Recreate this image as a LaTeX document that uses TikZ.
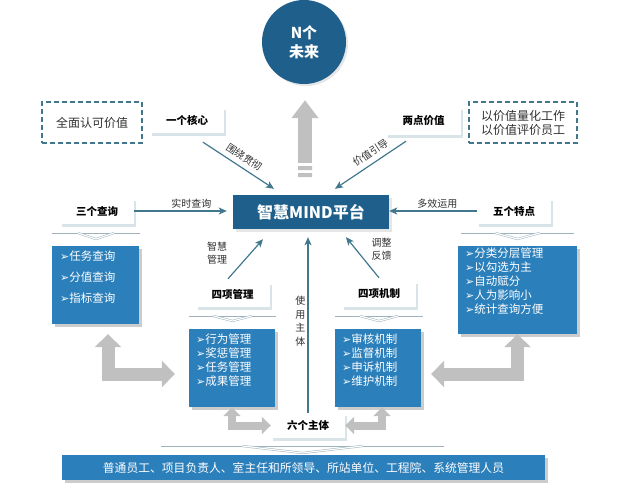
\documentclass[tikz,border=0pt]{standalone}
\usepackage{fontspec}
\setmainfont{Noto Sans CJK SC}
\newfontfamily\dejavu{DejaVu Sans}
\usepackage{tikz}
\usetikzlibrary{arrows.meta}
\usetikzlibrary{calc}
\usetikzlibrary{shadows}

\definecolor{navy}{HTML}{1F5F8B}
\definecolor{midblue}{HTML}{2B7FBB}
\definecolor{linkblue}{HTML}{41788E}
\definecolor{blockgray}{HTML}{C0C0C0}
\definecolor{sepgray}{HTML}{9FB3BF}
\definecolor{txtgray}{HTML}{303030}

\newcommand{\listmark}{{\dejavu\fontsize{11}{11}\selectfont ➢}}

\begin{document}
\begin{tikzpicture}[x=1pt,y=-1pt,>={Stealth[length=8pt,width=7pt,inset=2pt]},
  head node/.style={rectangle,fill=white,minimum width=74pt,minimum height=26pt,inner sep=0pt,font=\fontsize{10.5}{12}\selectfont\bfseries,drop shadow={shadow xshift=2pt,shadow yshift=-3pt,fill=linkblue,opacity=0.2}},
  value node/.style={rectangle,draw=linkblue,line width=1.3pt,dash pattern=on 5pt off 3pt,minimum height=41pt,inner sep=0pt,align=center,text=txtgray,font=\fontsize{12}{14}\selectfont},
  list box/.style={rectangle,fill=midblue,inner sep=0pt,drop shadow={shadow xshift=3pt,shadow yshift=-3pt,fill=black,opacity=0.2}},
  list text/.style={anchor=north west,inner sep=0pt,align=left,text=white,font=\fontsize{11.5}{14}\selectfont},
  link/.style={->,draw=linkblue,line width=1.2pt},
  tag/.style={inner sep=2pt,text=txtgray,font=\fontsize{10}{13.5}\selectfont},
  block/.style={draw=blockgray,line width=13pt,arrows={Triangle[length=13pt,width=26pt]-Triangle[length=13pt,width=26pt]}},
  small block/.style={draw=blockgray,line width=8pt,arrows={Triangle[length=9pt,width=17pt]-Triangle[length=9pt,width=17pt]}},
  rise/.style={draw=blockgray,line width=14pt,arrows={-Triangle[length=18pt,width=26pt]}},
  sepline/.style={draw=sepgray,line width=0.8pt},
  sepv/.style={draw=sepgray,line width=0.5pt,double=white,double distance=1.2pt}
]
\useasboundingbox (0,0) rectangle (624,490);

% top
\node[circle,fill=navy,minimum size=84pt,inner sep=0pt,align=center,text=white,font=\fontsize{15}{19}\selectfont\bfseries,drop shadow={shadow xshift=2pt,shadow yshift=-2pt,opacity=0.2}] (future) at (304,42) {N个\\未来};
\node[rectangle,fill=navy,minimum width=156pt,minimum height=34pt,inner sep=0pt,text=white,font=\fontsize{16}{18}\selectfont\bfseries,drop shadow={shadow xshift=3pt,shadow yshift=-3pt,opacity=0.2}] (mind) at (311,212) {智慧MIND平台};

\node[value node,minimum width=100pt] (whole) at (92,122.5) {全面认可价值};
\node[value node,minimum width=108pt] (measure) at (523,122.5) {以价值量化工作\\以价值评价员工};

\node[head node] (core) at (187,120) {一个核心};
\node[head node,minimum width=75pt,minimum height=28pt] (twopoint) at (423.5,121) {两点价值};
\node[head node] (query) at (97,211) {三个查询};
\node[head node] (feature) at (514,211) {五个特点};
\node[head node,minimum height=25pt] (manage) at (232.5,294.5) {四项管理};
\node[head node] (mech) at (379,294) {四项机制};
\node[head node,minimum height=25pt] (six) at (308,425.5) {六个主体};

% lists
\node[list box,minimum width=87pt,minimum height=78pt] (qlist) at (95.5,285) {};
\node[list text,font=\fontsize{11.5}{21}\selectfont] (qtext) at (60,251) {\listmark{}任务查询\\\listmark{}分值查询\\\listmark{}指标查询};
\node[list box,minimum width=86pt,minimum height=78pt] (mlist) at (232,368) {};
\node[list text] (mtext) at (196,334) {\listmark{}行为管理\\\listmark{}奖惩管理\\\listmark{}任务管理\\\listmark{}成果管理};
\node[list box,minimum width=86pt,minimum height=78pt] (clist) at (378,368) {};
\node[list text] (ctext) at (342,334) {\listmark{}审核机制\\\listmark{}监督机制\\\listmark{}申诉机制\\\listmark{}维护机制};
\node[list box,minimum width=119pt,minimum height=88pt] (flist) at (517.5,290) {};
\node[list text] (ftext) at (465,248) {\listmark{}分类分层管理\\\listmark{}以勾选为主\\\listmark{}自动赋分\\\listmark{}人为影响小\\\listmark{}统计查询方便};
\node[list box,minimum width=483pt,minimum height=25pt,text=white,font=\fontsize{11.8}{14}\selectfont] (staff) at (303.5,467.5) {普通员工、项目负责人、室主任和所领导、所站单位、工程院、系统管理人员};

% separators
\foreach \cx/\cy/\hw/\vw/\dip in {96/233/44/18/6, 232.5/316/43.5/19/5, 379/316/44/19/5, 517.5/233/56.5/22/6, 302.5/446/141.5/60/7}
{
  \draw[sepline] (\cx-\hw,\cy) -- (\cx+\hw,\cy);
  \draw[sepv] (\cx-\vw,\cy) -- (\cx,\cy+\dip) -- (\cx+\vw,\cy);
}

% links
\draw[link] ($(core.south)+(16,9)$) -- node[tag,sloped,above=3pt] {围绕贯彻} ($(mind.north)+(-37,-6)$);
\draw[link] ($(twopoint.south)+(-17.5,6)$) -- node[tag,sloped,above=3pt,pos=0.42] {价值引导} ($(mind.north)+(24,-6)$);
\draw[link,shorten >=6pt] (query.east) -- node[tag,above,pos=0.58] {实时查询} (query.east -| mind.west);
\draw[link] (feature.west) -- node[tag,above,pos=0.45] {多效运用} (feature.west -| mind.east);
\draw[link] ($(manage.north)+(-4.5,-3)$) -- node[tag,align=center,pos=0.65,left=21pt] {智慧\\管理} ($(mind.south)+(-48,10)$);
\draw[link] ($(mech.north)+(0,-3)$) -- node[tag,align=center,pos=0.7,right=13pt] {调整\\反馈} ($(mind.south)+(35,8)$);
\draw[link,shorten >=8pt] (six.north) -- node[tag,align=center,left,pos=0.5] {使\\用\\主\\体} (six.north |- mind.south);

% gray block arrows
\draw[block] ($(qlist.south)+(12.5,10)$) |- ($(mlist.west)+(-14,6)$);
\draw[small block] (six.west) -| (mlist.south);
\draw[small block] (six.east) -| ($(clist.south)+(4,0)$);
\draw[block] (flist.south) |- ($(clist.east)+(10,6)$);
\draw[rise] ($(future.south)+(1,79)$) -- ($(future.south)+(1,16)$);
\fill[blockgray] (298,166) rectangle (312,170) (298,173) rectangle (312,177);

\end{tikzpicture}
\end{document}
